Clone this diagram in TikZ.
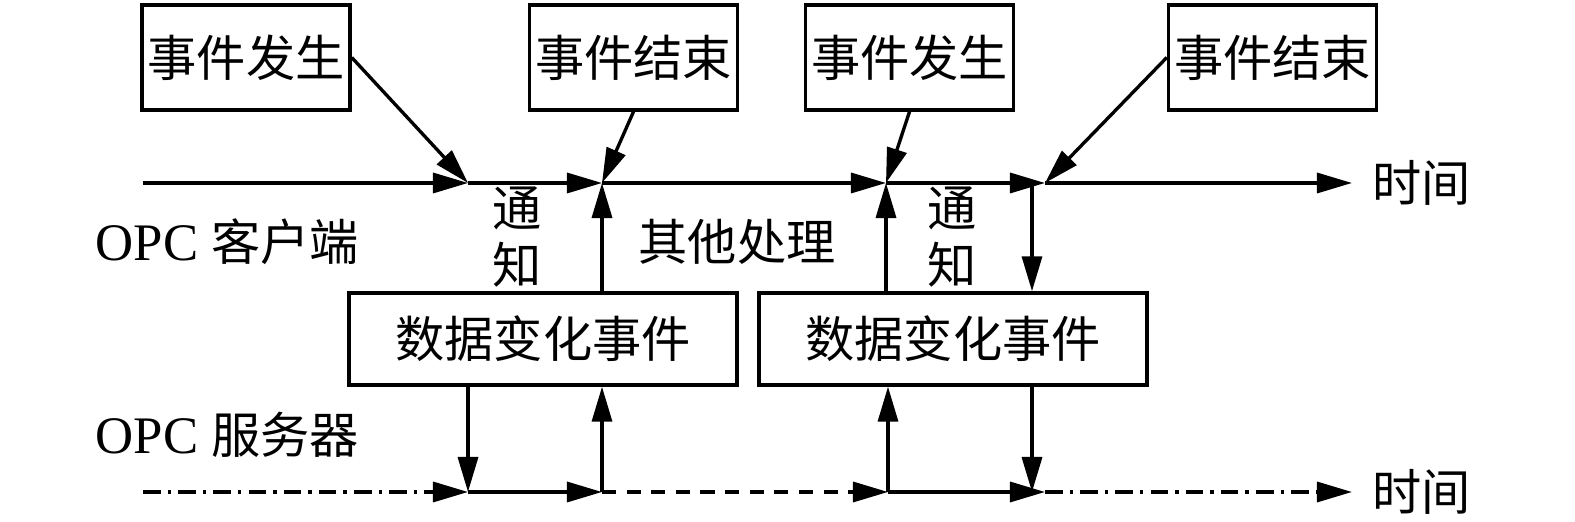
\documentclass[tikz,border=0pt]{standalone}
\usepackage{fontspec}
\setmainfont{Liberation Serif}
\newfontfamily\cjk{Noto Sans CJK SC}
\usetikzlibrary{arrows.meta}

\newcommand{\zh}[1]{{\cjk\fontsize{14}{14}\selectfont #1}}

\tikzset{
  evbox/.style={draw,line width=0.95pt,minimum width=2.08cm,minimum height=1.05cm,inner sep=0pt,font=\cjk\fontsize{14}{16}\selectfont},
  databox/.style={evbox,minimum width=3.88cm,minimum height=0.92cm},
  lbl/.style={inner sep=0pt,font=\fontsize{15}{16}\selectfont},
  arr/.style={line width=0.95pt,-{Triangle[length=3.5mm,width=2mm]}},
  dashdot/.style={dash pattern=on 5pt off 2pt on 1pt off 2pt},
  dash4/.style={dash pattern=on 4pt off 3pt},
}

\begin{document}
\begin{tikzpicture}[x=0.01cm,y=-0.01cm]
\useasboundingbox (0,0) rectangle (1575,522);

% boxes
\node[evbox] (occ1) at (246,57.5) {事件发生};
\node[evbox] (end1) at (633.5,57.5) {事件结束};
\node[evbox] (occ2) at (909.5,57.5) {事件发生};
\node[evbox] (end2) at (1272.5,57.5) {事件结束};
\node[databox] (chg1) at (543,339) {数据变化事件};
\node[databox] (chg2) at (953,339) {数据变化事件};

% client time axis
\coordinate (c0) at (143,183);
\coordinate (c1) at (468,183);
\coordinate (c2) at (602,183);
\coordinate (c3) at (886,183);
\coordinate (c4) at (1045,183);
\coordinate (c5) at (1352,183);
\coordinate (cd) at (1032,183);
\foreach \a/\b in {c0/c1,c1/c2,c2/c3,c3/c4,c4/c5}
	\draw[arr] (\a) -- (\b);

% server time axis
\coordinate (s0) at (143,492);
\coordinate (s1) at (468,492);
\coordinate (s2) at (602,492);
\coordinate (s3) at (888,492);
\coordinate (s4) at (1045,492);
\coordinate (s5) at (1352,492);
\coordinate (sd) at (1032,492);
\foreach \a/\b/\s in {s0/s1/dashdot,s1/s2/solid,s2/s3/dash4,s3/s4/solid,s4/s5/dashdot}
	\draw[arr,\s] (\a) -- (\b);

% events
\draw[arr] (occ1.east) -- (c1);
\draw[arr] (end1.south) -- (c2);
\draw[arr] (occ2.south) -- (c3);
\draw[arr] (end2.west) -- (c4);

% notifications
\draw[arr] (chg1.north -| c2) -- (c2);
\draw[arr] (chg2.north -| c3) -- (c3);
\draw[arr] (cd) -- (chg2.north -| cd);
\draw[arr] (chg1.south -| s1) -- (s1);
\draw[arr] (s2) -- (chg1.south -| s2);
\draw[arr] (s3) -- (chg2.south -| s3);
\draw[arr] (chg2.south -| sd) -- (sd);

% labels
\node[lbl,anchor=west] (client) at (95,242) {OPC \zh{客户端}};
\node[lbl,anchor=west] (server) at (95,435) {OPC \zh{服务器}};
\node[lbl,align=center] (note1) at (517,237) {\zh{通}\\\zh{知}};
\node[lbl,align=center] (note2) at (952,237) {\zh{通}\\\zh{知}};
\node[lbl] (other) at (737,242) {\zh{其他处理}};
\node[lbl,anchor=west] (time1) at (1372,183) {\zh{时间}};
\node[lbl,anchor=west] (time2) at (1372,492) {\zh{时间}};

\end{tikzpicture}
\end{document}
